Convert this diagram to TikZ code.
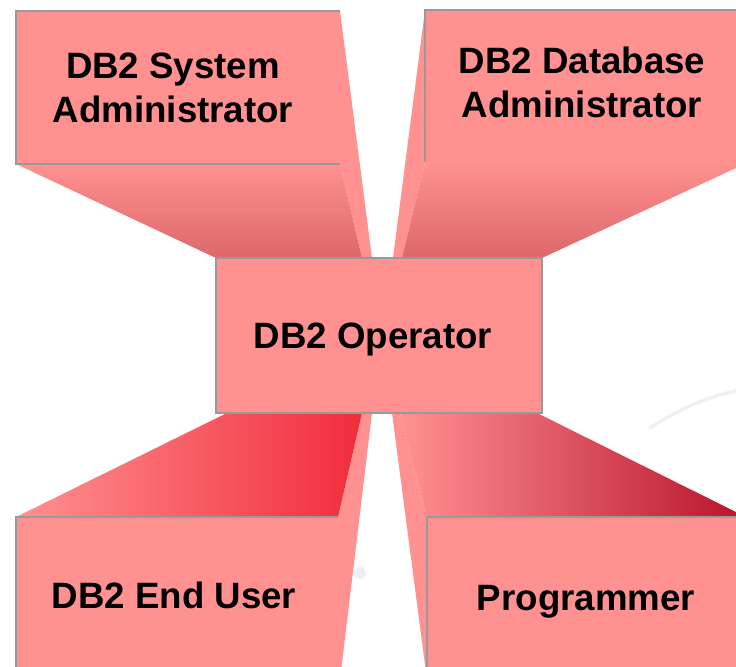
\documentclass[tikz,border=0pt]{standalone}
\usepackage{fontspec}
\setmainfont{Liberation Sans}
\definecolor{boxcol}{HTML}{FF9191}
\definecolor{edgecol}{HTML}{999999}
\definecolor{shadecol}{HTML}{DC6868}
\definecolor{redcol}{HTML}{F02C3C}
\definecolor{darkcol}{HTML}{B8142A}
\definecolor{markcol}{HTML}{EEEFF5}

\begin{document}
\begin{tikzpicture}[x=0.75pt,y=-0.75pt,
  face/.style={fill=boxcol},
  rim/.style={draw=edgecol, line width=1.8pt},
  role/.style={font=\bfseries\fontsize{27.5}{33}\selectfont, inner sep=0pt, align=center}]

% ---------- frame ----------
\useasboundingbox (0,0) rectangle (736,667);
\clip (0,0) rectangle (736,667);

% faint watermark
\draw[markcol, line width=2.5pt, line cap=round]
  (650,428) .. controls (685,405) and (715,395) .. (740,390);
\fill[markcol] (360,573) circle (6);

% ---------- top left ----------
\fill[face] (16,11) rectangle (340,164);
\fill[face] (340,11) -- (372,258) -- (362,258) -- (340,164) -- cycle;
\shade[top color=boxcol, middle color=boxcol, bottom color=shadecol]
  (16,164) -- (340,164) -- (362,258) -- (216,258) -- cycle;
\draw[rim] (340,11) -- (16,11) -- (16,164) -- (340,164);

% ---------- top right ----------
\fill[face] (425,10) rectangle (760,162);
\fill[face] (425,10) -- (393,258) -- (402,258) -- (425,162) -- cycle;
\shade[top color=boxcol, middle color=boxcol, bottom color=shadecol]
  (425,162) -- (749,162) -- (542,258) -- (402,258) -- cycle;
\draw[rim] (760,10) -- (425,10) -- (425,162);

% ---------- bottom left ----------
\fill[face] (16,517) rectangle (338,680);
\fill[face] (338,517) -- (362,413) -- (372,413) -- (340,680) -- (338,680) -- cycle;
\shade[left color=boxcol, right color=redcol]
  (16,517) -- (227,413) -- (362,413) -- (338,517) -- cycle;
\draw[rim] (338,517) -- (16,517) -- (16,680);

% ---------- bottom right ----------
\fill[face] (427,517) rectangle (760,680);
\fill[face] (392,413) -- (400,413) -- (427,517) -- (427,680) -- cycle;
\shade[left color=boxcol, right color=darkcol]
  (400,413) -- (537,413) -- (746,517) -- (427,517) -- cycle;
\draw[rim] (760,517) -- (427,517) -- (427,680);

% ---------- centre ----------
\fill[face] (216,258) rectangle (542,413);
\draw[rim] (216,258) rectangle (542,413);

% ---------- labels ----------
\node[role, anchor=south] (sysadm) at (173,123) {DB2 System\\Administrator};
\node[role, anchor=south] (dbadm) at (582,118) {DB2 Database\\Administrator};
\node[role, anchor=base] (oper) at (373,348) {DB2 Operator};
\node[role, anchor=base] (enduser) at (174,608) {DB2 End User};
\node[role, anchor=base] (prog) at (586,610) {Programmer};

\end{tikzpicture}
\end{document}
